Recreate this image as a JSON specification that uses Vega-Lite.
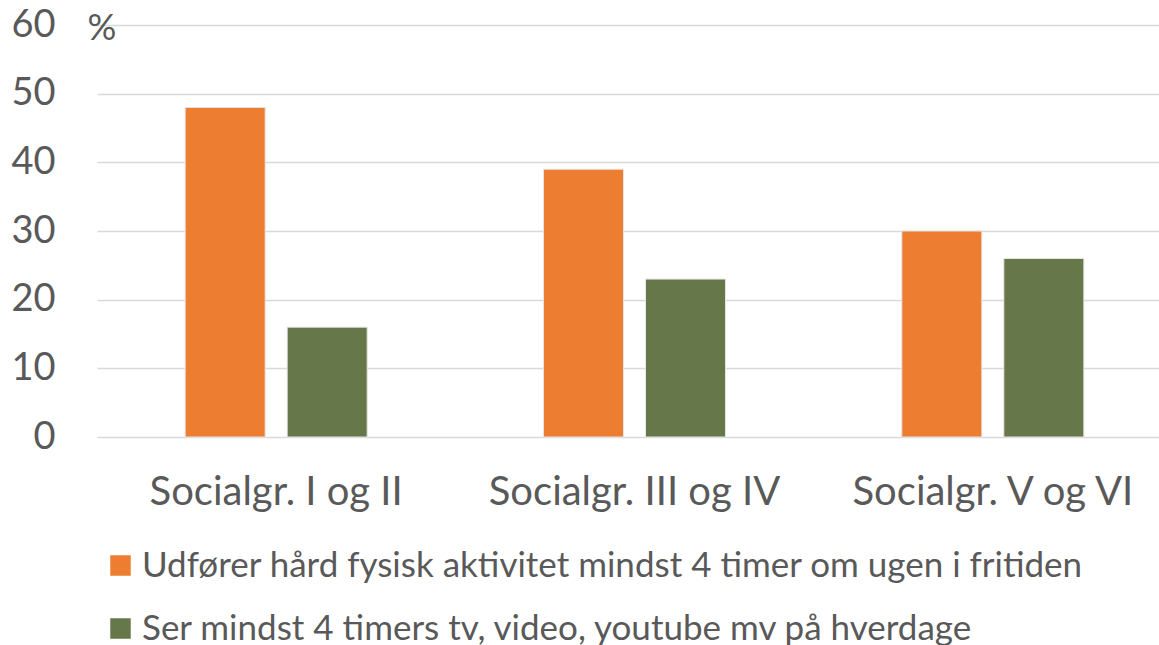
{
  "$schema": "https://vega.github.io/schema/vega-lite/v6.json",
  "width": 1062,
  "height": 412,
  "autosize": "none",
  "padding": {"left": 97, "top": 25, "right": 0, "bottom": 208},
  "background": "white",
  "config": {"view": {"stroke": null}, "font": "Lato"},
  "data": {
    "values": [
      {"group": "Socialgr. I og II", "series": "Udfører hård fysisk aktivitet mindst 4 timer om ugen i fritiden", "value": 48},
      {"group": "Socialgr. I og II", "series": "Ser mindst 4 timers tv, video, youtube mv på hverdage", "value": 16},
      {"group": "Socialgr. III og IV", "series": "Udfører hård fysisk aktivitet mindst 4 timer om ugen i fritiden", "value": 39},
      {"group": "Socialgr. III og IV", "series": "Ser mindst 4 timers tv, video, youtube mv på hverdage", "value": 23},
      {"group": "Socialgr. V og VI", "series": "Udfører hård fysisk aktivitet mindst 4 timer om ugen i fritiden", "value": 30},
      {"group": "Socialgr. V og VI", "series": "Ser mindst 4 timers tv, video, youtube mv på hverdage", "value": 26}
    ]
  },
  "mark": {"type": "bar", "stroke": "#e6e6e6", "strokeWidth": 1},
  "encoding": {
    "x": {
      "field": "group",
      "type": "nominal",
      "sort": ["Socialgr. I og II", "Socialgr. III og IV", "Socialgr. V og VI"],
      "scale": {"range": [0, 1075], "paddingInner": 0, "paddingOuter": 0},
      "axis": {
        "title": null,
        "labelAngle": 0,
        "domain": false,
        "ticks": false,
        "labelFontSize": 40,
        "labelColor": "#595959",
        "labelPadding": 35,
        "labelBaseline": "top",
        "labelLimit": 500
      }
    },
    "xOffset": {
      "field": "series",
      "sort": ["Udfører hård fysisk aktivitet mindst 4 timer om ugen i fritiden", "Ser mindst 4 timers tv, video, youtube mv på hverdage"],
      "scale": {"paddingInner": 0.2157, "paddingOuter": 0.864}
    },
    "y": {
      "field": "value",
      "type": "quantitative",
      "scale": {"domain": [0, 60]},
      "axis": {
        "values": [0, 10, 20, 30, 40, 50, 60],
        "grid": true,
        "gridColor": "#d9d9d9",
        "gridWidth": 1.5,
        "domain": false,
        "ticks": false,
        "labelFontSize": 38,
        "labelColor": "#595959",
        "labelPadding": 42,
        "title": "%",
        "titleAngle": 0,
        "titleX": -10,
        "titleY": 3,
        "titleAlign": "left",
        "titleBaseline": "middle",
        "titleFontSize": 36,
        "titleFontWeight": "normal",
        "titleColor": "#595959"
      }
    },
    "color": {
      "field": "series",
      "type": "nominal",
      "sort": ["Udfører hård fysisk aktivitet mindst 4 timer om ugen i fritiden", "Ser mindst 4 timers tv, video, youtube mv på hverdage"],
      "scale": {
        "domain": ["Udfører hård fysisk aktivitet mindst 4 timer om ugen i fritiden", "Ser mindst 4 timers tv, video, youtube mv på hverdage"],
        "range": ["#ED7D31", "#66774A"]
      },
      "legend": {
        "orient": "none",
        "legendX": 6,
        "legendY": 523,
        "direction": "vertical",
        "title": null,
        "symbolType": "square",
        "symbolSize": 420,
        "symbolStrokeWidth": 0,
        "labelFontSize": 35,
        "labelColor": "#595959",
        "labelLimit": 1100,
        "labelOffset": 4,
        "rowPadding": 27
      }
    }
  }
}
